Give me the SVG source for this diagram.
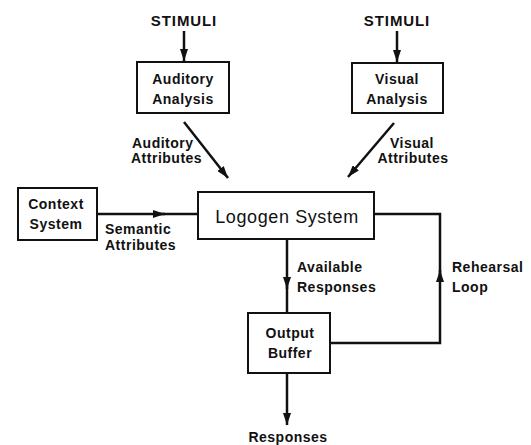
<svg xmlns="http://www.w3.org/2000/svg" width="531" height="445" viewBox="0 0 531 445">
<defs>
<style>
.box{fill:#fff;stroke:#111;stroke-width:2}
.ln{fill:none;stroke:#111;stroke-width:2.5}
.t{font-family:"Liberation Sans",Arial,sans-serif;font-size:14px;font-weight:bold;fill:#111;letter-spacing:0.5px}
.c{text-anchor:middle}
.st{font-size:15px;letter-spacing:0.9px}
.big{font-family:"Liberation Sans",Arial,sans-serif;font-size:18px;fill:#111;letter-spacing:0.6px;text-anchor:middle}
</style>
<marker id="ah" viewBox="0 0 12 8" refX="12" refY="4" markerWidth="12" markerHeight="8" markerUnits="userSpaceOnUse" orient="auto">
<path d="M0,0 L12,4 L0,8 z" fill="#111"/>
</marker>
</defs>
<rect width="531" height="445" fill="#fff"/>
<g id="connectors">
<line class="ln" x1="184" y1="31" x2="184" y2="61" marker-end="url(#ah)"/>
<line class="ln" x1="397" y1="31" x2="397" y2="62" marker-end="url(#ah)"/>
<line class="ln" x1="184" y1="122" x2="228" y2="178" marker-end="url(#ah)"/>
<line class="ln" x1="394" y1="123" x2="348" y2="177" marker-end="url(#ah)"/>
<line class="ln" x1="97" y1="214" x2="165" y2="214" marker-end="url(#ah)"/>
<line class="ln" x1="160" y1="214" x2="198" y2="214"/>
<line class="ln" x1="287" y1="239" x2="287" y2="289" marker-end="url(#ah)"/>
<line class="ln" x1="287" y1="285" x2="287" y2="313"/>
<polyline class="ln" points="330,343 440,343 440,270" marker-end="url(#ah)"/>
<polyline class="ln" points="440,275 440,214 374,214"/>
<line class="ln" x1="287" y1="373" x2="287" y2="425" marker-end="url(#ah)"/>
</g>
<g id="stimuli-auditory"><text class="t c st" x="184" y="26">STIMULI</text></g>
<g id="stimuli-visual"><text class="t c st" x="397" y="26">STIMULI</text></g>
<g id="auditory-analysis">
<rect class="box" x="137" y="62" width="92" height="51"/>
<text class="t c" x="183" y="84">Auditory</text>
<text class="t c" x="183" y="104">Analysis</text>
</g>
<g id="visual-analysis">
<rect class="box" x="352" y="63" width="91" height="50"/>
<text class="t c" x="397" y="84">Visual</text>
<text class="t c" x="397" y="104">Analysis</text>
</g>
<g id="label-auditory-attributes">
<text class="t" x="132" y="148">Auditory</text>
<text class="t" x="131" y="163">Attributes</text>
</g>
<g id="label-visual-attributes">
<text class="t c" x="412" y="148">Visual</text>
<text class="t c" x="413" y="163">Attributes</text>
</g>
<g id="context-system">
<rect class="box" x="18" y="188" width="79" height="52"/>
<text class="t c" x="56" y="209">Context</text>
<text class="t c" x="56" y="229">System</text>
</g>
<g id="label-semantic">
<text class="t" x="105" y="234">Semantic</text>
<text class="t" x="105" y="250">Attributes</text>
</g>
<g id="logogen-system">
<rect class="box" x="198" y="192" width="176" height="47"/>
<text class="big" x="287" y="223">Logogen System</text>
</g>
<g id="label-available">
<text class="t" x="297" y="272">Available</text>
<text class="t" x="297" y="292">Responses</text>
</g>
<g id="label-rehearsal">
<text class="t" x="452" y="272">Rehearsal</text>
<text class="t" x="452" y="292">Loop</text>
</g>
<g id="output-buffer">
<rect class="box" x="248" y="313" width="82" height="60"/>
<text class="t c" x="290" y="338">Output</text>
<text class="t c" x="290" y="358">Buffer</text>
</g>
<g id="responses"><text class="t c" x="288" y="442">Responses</text></g>
</svg>
